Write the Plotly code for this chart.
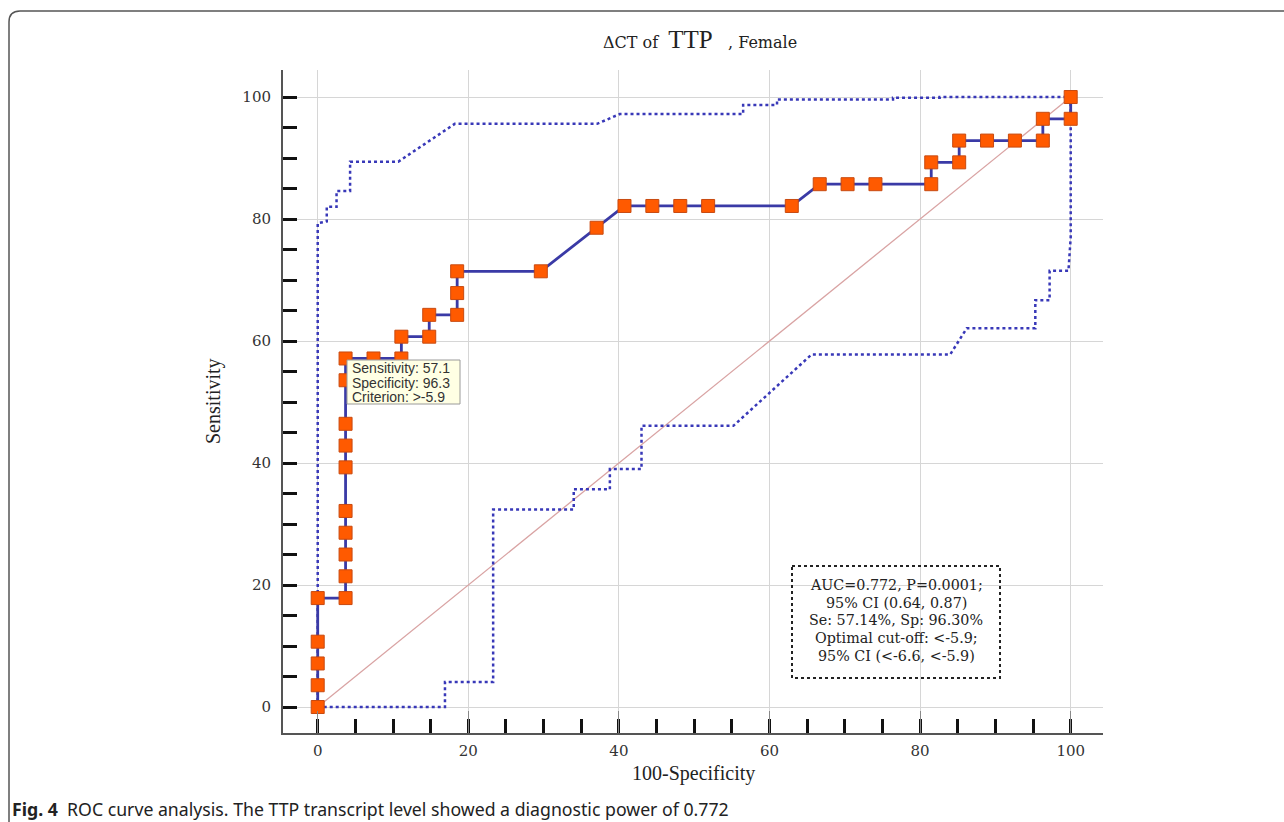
import plotly.graph_objects as go

# ---- data ----
roc_fpr = [0, 0, 0, 0, 0,
           3.70, 3.70, 3.70, 3.70, 3.70, 3.70, 3.70, 3.70, 3.70, 3.70,
           7.41, 11.11, 11.11, 14.81, 14.81, 18.52, 18.52, 18.52,
           29.63, 37.04, 40.74, 44.44, 48.15, 51.85, 62.96,
           66.67, 70.37, 74.07, 81.48, 81.48, 85.19, 85.19, 88.89, 92.59,
           96.30, 96.30, 100, 100]
roc_sens = [0, 3.57, 7.14, 10.71, 17.86,
            17.86, 21.43, 25.00, 28.57, 32.14, 39.29, 42.86, 46.43, 53.57, 57.14,
            57.14, 57.14, 60.71, 60.71, 64.29, 64.29, 67.86, 71.43,
            71.43, 78.57, 82.14, 82.14, 82.14, 82.14, 82.14,
            85.71, 85.71, 85.71, 85.71, 89.29, 89.29, 92.86, 92.86, 92.86,
            92.86, 96.43, 96.43, 100]

upper_x = [0, 0, 1.2, 1.2, 2.5, 2.5, 4.3, 4.3, 10.7, 18.2, 37.1, 40.1, 56.5, 56.5,
           61.0, 61.0, 76.4, 76.4, 82.6, 82.6, 100]
upper_y = [0, 79.3, 79.6, 82.0, 82.0, 84.6, 84.6, 89.4, 89.4, 95.6, 95.6, 97.2, 97.2, 98.7,
           98.7, 99.6, 99.6, 99.9, 99.9, 100, 100]

lower_x = [0, 16.9, 16.9, 23.3, 23.3, 34.0, 34.0, 38.8, 38.8, 43.0, 43.0, 55.2, 65.6,
           84.0, 86.2, 95.3, 95.3, 97.2, 97.2, 99.7, 100, 100]
lower_y = [0, 0, 4.1, 4.1, 32.4, 32.4, 35.7, 35.7, 39.0, 39.0, 46.1, 46.1, 57.8,
           57.8, 62.1, 62.1, 66.7, 66.7, 71.5, 71.5, 77.0, 100]

diag_x = [0, 100]
diag_y = [0, 100]

tick_vals = [0, 20, 40, 60, 80, 100]
tick_text = ["0", "20", "40", "60", "80", "100"]

info_lines = ["AUC=0.772, P=0.0001;", "95% CI (0.64, 0.87)", "Se: 57.14%, Sp: 96.30%",
              "Optimal cut-off: <-5.9;", "95% CI (<-6.6, <-5.9)"]
tip_lines = ["Sensitivity: 57.1", "Specificity: 96.3", "Criterion: >-5.9"]

# ---- layout geometry (pixels) ----
W, H = 1284, 822
L, R, T, B = 283, 1103, 70, 733


def pxx(x):
    return (x - L) / (R - L)


def pxy(y):
    return (B - y) / (B - T)


fig = go.Figure()

fig.add_trace(go.Scatter(x=diag_x, y=diag_y, mode="lines",
                         line=dict(color="#d9a3a3", width=1.3), hoverinfo="skip"))
fig.add_trace(go.Scatter(x=upper_x, y=upper_y, mode="lines",
                         line=dict(color="#3838b8", width=2.5, dash="dot"), hoverinfo="skip"))
fig.add_trace(go.Scatter(x=lower_x, y=lower_y, mode="lines",
                         line=dict(color="#3838b8", width=2.5, dash="dot"), hoverinfo="skip"))
fig.add_trace(go.Scatter(x=roc_fpr, y=roc_sens, mode="lines+markers",
                         line=dict(color="#3a3aa6", width=2.8),
                         marker=dict(symbol="square", size=13, color="#ff5a00",
                                     line=dict(color="#c84a10", width=1))))

axis_common = dict(
    showgrid=True, gridcolor="#d6d6d6", gridwidth=1, zeroline=False,
    showline=True, linecolor="#555555", linewidth=2,
    tickvals=tick_vals, ticktext=tick_text,
    tickfont=dict(family="DejaVu Serif", size=15, color="#333333"),
    minor=dict(ticks="inside", ticklen=14, tickwidth=3, tickcolor="#111111",
               dtick=5, tick0=0, showgrid=False),
)

fig.update_xaxes(range=[-4.61, 104.29], ticks="inside", ticklen=22, tickwidth=1,
                 tickcolor="#888888", ticklabelstandoff=3, **axis_common)
fig.update_yaxes(range=[-4.26, 104.43], ticks="", ticklabelstandoff=7, **axis_common)

annotations = []
# title
annotations.append(dict(
    x=pxx(700), y=pxy(40), xref="paper", yref="paper", showarrow=False,
    text="ΔCT of  <span style='font-family:Liberation Serif;font-size:25px;font-weight:normal'>TTP</span>   , Female",
    font=dict(family="DejaVu Serif", size=16, color="#222222"), xanchor="center", yanchor="middle"))
# axis titles
annotations.append(dict(x=pxx(693), y=pxy(773), xref="paper", yref="paper", showarrow=False,
                        text="100-Specificity", xanchor="center", yanchor="middle",
                        font=dict(family="Liberation Serif", size=20, color="#222222")))
annotations.append(dict(x=pxx(213), y=pxy(401), xref="paper", yref="paper", showarrow=False,
                        text="Sensitivity", textangle=-90, xanchor="center", yanchor="middle",
                        font=dict(family="Liberation Serif", size=20, color="#222222")))
# info box lines
for i, s in enumerate(info_lines):
    annotations.append(dict(x=pxx(896), y=pxy(585 + i * 17.7), xref="paper", yref="paper",
                            showarrow=False, text=s, xanchor="center", yanchor="middle",
                            font=dict(family="DejaVu Serif", size=14.3, color="#222222")))
# tooltip lines
for i, s in enumerate(tip_lines):
    annotations.append(dict(x=pxx(350), y=pxy(368.5 + i * 14.2), xref="paper", yref="paper",
                            showarrow=False, text=s, xanchor="left", yanchor="middle",
                            font=dict(family="Liberation Sans", size=14, color="#333333")))
# caption
annotations.append(dict(x=pxx(10), y=pxy(809), xref="paper", yref="paper", showarrow=False,
                        text="<b>Fig. 4</b>  ROC curve analysis. The TTP transcript level showed a diagnostic power of 0.772",
                        xanchor="left", yanchor="middle",
                        font=dict(family="Noto Sans", size=17.7, color="#222222")))

shapes = []
# info box
shapes.append(dict(type="rect", xref="paper", yref="paper",
                   x0=pxx(792), x1=pxx(1000), y0=pxy(566), y1=pxy(678),
                   line=dict(color="#222222", width=2, dash="dot"), fillcolor="rgba(0,0,0,0)",
                   layer="above"))
# tooltip box
shapes.append(dict(type="rect", xref="paper", yref="paper",
                   x0=pxx(347), x1=pxx(460), y0=pxy(360), y1=pxy(404),
                   line=dict(color="#9a9a9a", width=1), fillcolor="#ffffe4", layer="above"))
# figure frame (top-left rounded corner)
path = "M {a},{b} L {a},{c} Q {a},{d} {e},{d} L {f},{d}".format(
    a=pxx(9), b=pxy(822), c=pxy(22), d=pxy(11), e=pxx(20), f=pxx(1284))
shapes.append(dict(type="path", xref="paper", yref="paper", path=path,
                   line=dict(color="#555555", width=1.5)))

fig.update_layout(
    width=W, height=H,
    margin=dict(l=L, r=W - R, t=T, b=H - B),
    paper_bgcolor="white", plot_bgcolor="white",
    showlegend=False,
    annotations=annotations,
    shapes=shapes,
)

fig.write_html("out.html", config={"displayModeBar": False},
               post_script="document.body.style.margin='0';document.body.style.padding='0';")
